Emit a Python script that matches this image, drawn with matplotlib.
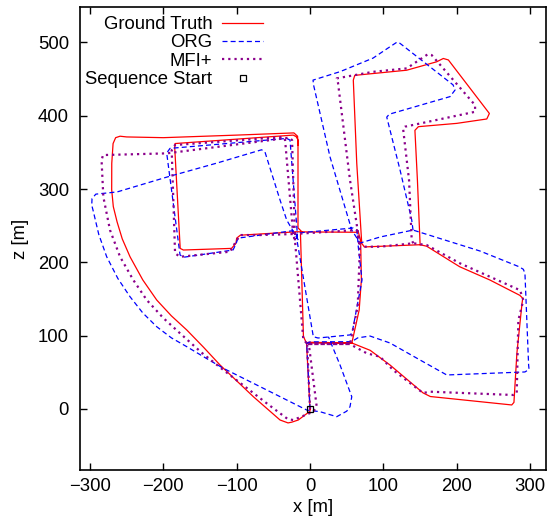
import numpy as np
import matplotlib
matplotlib.use("Agg")
import matplotlib.pyplot as plt

plt.rcParams['font.family'] = ['Liberation Sans', 'DejaVu Sans']
plt.rcParams['font.size'] = 13.3

# trajectories in metres (x, z), each one a list of strokes
ground_truth = [
    # start, bottom of centre block, right hand loop
    [(0, 0), (-4.8, 90), (-2, 91), (57, 90), (82, 80), (109, 60), (154, 22), (164, 17),
     (275, 5.5), (278, 9), (282, 76), (289, 144), (290, 151), (286, 155), (245, 176),
     (204, 194), (159, 222), (150, 224)],
    # upper L shaped loop
    [(150, 224), (74, 221), (70.5, 226), (63.7, 335), (59, 448.5), (61, 455), (131.8, 462),
     (172.7, 473.5), (181.7, 478), (188.6, 476), (244.5, 403), (241, 395.5), (200, 389.5),
     (147.7, 385), (143, 380), (146.4, 312), (150, 226)],
    # centre block
    [(-5, 90), (57, 90), (67, 135), (70, 176), (69, 229), (66, 241), (-11, 241.5),
     (-13, 238), (-9, 99), (-5, 90)],
    # left square
    [(-11, 241.5), (-16.4, 247), (-16.4, 367), (-19, 371.5), (-23, 373.5), (-184, 362),
     (-184.5, 357), (-177, 219), (-172.7, 216.8), (-107, 219), (-101, 226), (-100, 233),
     (-95, 237), (-18, 241.7), (-11, 241.5)],
    # big loop back to the start
    [(-16.4, 360), (-17, 372), (-22, 376.5), (-100, 373.5), (-200, 370), (-250, 371),
     (-259, 372), (-265, 370), (-268.5, 362), (-270.3, 335), (-270.4, 299), (-268.2, 276),
     (-263, 255), (-256, 232), (-245.4, 207.6), (-228, 176), (-209, 148.6), (-189, 127),
     (-168, 107.7), (-145, 84), (-122.7, 60), (-77.3, 16.8), (-40.9, -15), (-30, -19),
     (-25, -18), (-16, -15), (0, -3), (0, 0)],
]

org = [
    [(0, 0), (-4.5, 89.6), (0, 91.5), (56.9, 91.8), (65, 97), (81.8, 99.5), (109, 90),
     (150, 66.8), (186.4, 46.4), (293, 50.5), (298.6, 54), (298, 60), (293, 185),
     (290.8, 190.5), (285, 194), (231.8, 215.4), (140.4, 244), (95.4, 234.5), (68.2, 226.3)],
    [(140.4, 244), (138.6, 258), (122.7, 326), (104.6, 398), (108, 402), (190.9, 426),
     (197.7, 435), (195, 442), (122.7, 498.6), (118.6, 500.3), (109, 494), (85.9, 478.5),
     (40.9, 460), (4.1, 448.5), (5, 441), (27.3, 343.6), (56.9, 244), (62, 236), (68.2, 226.3)],
    [(-18.1, 232), (-17, 240), (58.6, 246.8), (64, 243), (65.8, 221), (70.9, 176),
     (57.3, 103.6), (54.5, 101), (10.9, 96.8), (4.5, 98.6), (-18.1, 232)],
    [(-18.1, 232), (-17.7, 244), (-27.3, 366.7), (-31.8, 369), (-190.9, 355.4),
     (-195.4, 349), (-177.2, 210), (-172, 207), (-105, 216.8), (-101, 225), (-98.2, 233),
     (-24.5, 243), (-17, 240)],
    [(-16, 230.4), (-31.8, 257.7), (-40.9, 285), (-61.4, 350.4), (-66, 353.5),
     (-126.8, 335.4), (-195, 316.3), (-263, 296), (-292, 293), (-297.2, 287), (-297.6, 278),
     (-295.8, 271), (-288, 238), (-277.2, 207.6), (-262, 178), (-245.4, 153.1),
     (-228, 131), (-209, 112.2), (-189, 97), (-168.1, 85), (-143, 70), (-118.2, 55.5),
     (-59, 25.9), (-4.5, -1.4), (13.6, -3.7), (36.4, -10.5), (50, -3),
     (54.5, 3.1), (56.9, 16.8), (40.9, 60), (25, 98.6)],
]

mfi = [
    [(0, 0), (-4, 89), (-1, 88.6), (54.5, 88.6), (57, 87), (77.3, 76), (95.4, 71.3),
     (113.2, 53.2), (154, 21.8), (163.6, 23.6), (276.8, 19.1), (281.8, 21.4), (284, 121),
     (290.8, 148.6), (286.3, 162), (204.5, 198.6), (159, 223.6), (140.8, 226), (95.4, 221.3),
     (68.2, 221.3)],
    [(140.8, 226), (138.6, 230.4), (135, 312), (126.8, 383), (129.5, 385), (225, 405.3),
     (225, 414.4), (165.9, 482.6), (160.9, 484), (131.8, 464.5), (85.9, 459.8),
     (36.4, 450.9), (38.2, 444.4), (54.5, 312.2), (65.4, 240), (68.2, 221.3)],
    [(-2.7, 88.6), (54.5, 88.6), (65, 140), (68, 221), (64, 244), (-23.2, 238.6),
     (-20.5, 230), (-9.1, 94), (-2.7, 88.6)],
    [(-23, 238.6), (-34, 366.7), (-37, 371), (-184, 360), (-188.6, 353), (-184, 212.3),
     (-177.2, 207.6), (-109, 214.5), (-102.2, 226.3), (-95.4, 237.2), (-68.2, 237.2),
     (-23, 238.6)],
    [(-20.5, 230), (-24.5, 366.7), (-28, 370), (-195.4, 348.6), (-282.2, 346.3),
     (-284, 340), (-284, 335), (-281.8, 289.4), (-272.7, 244), (-259, 207.6),
     (-241, 176), (-222.6, 148.6), (-200, 124), (-177.2, 103.2), (-148, 77),
     (-118.2, 53.2), (-59, 7.7), (-30, -14),
     (-22.8, -15), (4.5, -3.7), (9.1, 3.1), (-1.8, 89.6)],
]

start_x = [0]
start_z = [0]


def join_strokes(strokes):
    xs, zs = [], []
    for s in strokes:
        for x, z in s:
            xs.append(x)
            zs.append(z)
        xs.append(np.nan)
        zs.append(np.nan)
    return xs, zs


fig = plt.figure(figsize=(5.54, 5.19), dpi=100)
ax = fig.add_axes([80 / 554, 1 - 470 / 519, 466 / 554, 463 / 519])

gx, gz = join_strokes(ground_truth)
ox, oz = join_strokes(org)
mx, mz = join_strokes(mfi)

ax.plot(gx, gz, color='#ff0000', lw=0.9, label='Ground Truth')
ax.plot(ox, oz, color='#0000ff', lw=0.9, dashes=(4, 2.5), label='ORG')
ax.plot(mx, mz, color='#8b008b', lw=1.6, dashes=(1, 1.8), label='MFI+')
ax.plot(start_x, start_z, ls='none', marker='s', ms=5, mfc='none', mec='black',
        mew=0.9, label='Sequence Start')

ax.set_xlim(-313.6, 321.7)
ax.set_ylim(-83.2, 548.2)
ax.set_xticks([-300, -200, -100, 0, 100, 200, 300])
ax.set_yticks([0, 100, 200, 300, 400, 500])
ax.tick_params(direction='in', length=5, width=1, top=True, right=True, pad=6)
ax.tick_params(axis='y', pad=8)
for sp in ax.spines.values():
    sp.set_linewidth(1.2)

ax.set_xlabel('x [m]', labelpad=3)
ax.set_ylabel('z [m]', labelpad=6)

ax.legend(loc='upper right', bbox_to_anchor=(263 / 554, 1 - 16 / 519),
          bbox_transform=fig.transFigure, frameon=False, markerfirst=False,
          borderpad=0, borderaxespad=0, handlelength=2.2, handletextpad=0.55,
          labelspacing=0.08)

fig.savefig('out.png', dpi=100)
